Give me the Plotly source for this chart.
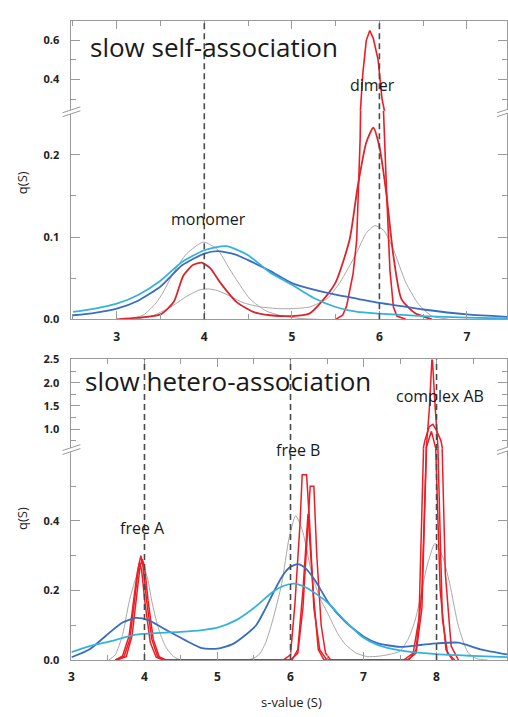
import plotly.graph_objects as go

# ---------------- data: slow self-association (top panel) ----------------
self_s_cyan = [2.5, 2.75, 3.0, 3.25, 3.5, 3.75, 4.0, 4.25, 4.5, 4.75, 5.0, 5.25, 5.5, 5.75, 6.0, 6.5, 7.0, 7.48]
self_q_cyan = [0.009, 0.013, 0.019, 0.030, 0.047, 0.070, 0.084, 0.089, 0.078, 0.057, 0.042, 0.026, 0.015, 0.009, 0.007, 0.004, 0.002, 0.001]

self_s_blue = [2.5, 2.75, 3.0, 3.25, 3.5, 3.75, 4.0, 4.15, 4.35, 4.5, 4.75, 5.0, 5.25, 5.5, 5.75, 6.0, 6.25, 6.5, 7.0, 7.48]
self_q_blue = [0.005, 0.008, 0.013, 0.023, 0.040, 0.066, 0.080, 0.083, 0.079, 0.072, 0.059, 0.044, 0.036, 0.030, 0.025, 0.020, 0.016, 0.012, 0.006, 0.003]

self_s_gray1 = [3.1, 3.3, 3.45, 3.53, 3.65, 3.8, 3.99, 4.15, 4.29, 4.52, 4.71, 4.9, 5.1, 5.3]
self_q_gray1 = [0.0, 0.005, 0.020, 0.033, 0.057, 0.080, 0.094, 0.085, 0.061, 0.025, 0.010, 0.004, 0.001, 0.0]

self_s_gray2 = [3.2, 3.4, 3.6, 3.8, 3.95, 4.05, 4.15, 4.3, 4.45, 4.65, 4.85, 5.0, 5.2, 5.4, 5.55, 5.74, 5.85, 5.95, 6.05, 6.16, 6.3, 6.45, 6.6, 6.8]
self_q_gray2 = [0.0, 0.004, 0.014, 0.028, 0.036, 0.037, 0.035, 0.028, 0.020, 0.015, 0.013, 0.013, 0.015, 0.025, 0.045, 0.081, 0.105, 0.114, 0.108, 0.085, 0.045, 0.018, 0.004, 0.0]

self_s_red1 = [3.0, 3.25, 3.5, 3.65, 3.76, 3.87, 3.97, 4.07, 4.18, 4.37, 4.56, 4.75, 5.0, 5.2, 5.36, 5.5, 5.66, 5.75, 5.85, 5.93, 6.0, 6.08, 6.16, 6.25, 6.4, 6.6]
self_q_red1 = [0.0, 0.002, 0.006, 0.021, 0.053, 0.066, 0.069, 0.062, 0.045, 0.021, 0.009, 0.005, 0.004, 0.007, 0.024, 0.045, 0.097, 0.160, 0.215, 0.233, 0.210, 0.152, 0.077, 0.025, 0.008, 0.0]

self_s_red2 = [5.5, 5.58, 5.625, 5.70, 5.74, 5.78, 5.81, 5.85, 5.89, 5.93, 5.985, 6.03, 6.08, 6.12, 6.16, 6.2, 6.3]
self_q_red2 = [0.0, 0.005, 0.016, 0.056, 0.096, 0.22, 0.43, 0.60, 0.65, 0.61, 0.50, 0.30, 0.16, 0.06, 0.015, 0.004, 0.0]

self_ref_s = [4, 6]

# ---------------- data: slow hetero-association (bottom panel) ----------------
het_s_cyan = [3.0, 3.25, 3.5, 3.88, 4.2, 4.5, 4.79, 5.0, 5.25, 5.53, 5.75, 5.9, 6.05, 6.2, 6.38, 6.52, 6.75, 6.98, 7.2, 7.5, 8.0, 8.5, 9.0]
het_q_cyan = [0.023, 0.040, 0.052, 0.073, 0.078, 0.081, 0.086, 0.093, 0.114, 0.155, 0.195, 0.213, 0.220, 0.210, 0.186, 0.163, 0.112, 0.067, 0.043, 0.028, 0.017, 0.012, 0.008]

het_s_blue = [3.0, 3.25, 3.5, 3.7, 3.88, 4.05, 4.33, 4.55, 4.79, 5.0, 5.2, 5.4, 5.53, 5.65, 5.78, 5.9, 6.0, 6.1, 6.2, 6.34, 6.52, 6.75, 7.0, 7.2, 7.5, 7.8, 8.0, 8.3, 8.6, 9.0]
het_q_blue = [0.008, 0.031, 0.075, 0.108, 0.121, 0.115, 0.083, 0.058, 0.034, 0.033, 0.045, 0.075, 0.100, 0.145, 0.200, 0.245, 0.268, 0.276, 0.265, 0.228, 0.165, 0.110, 0.068, 0.048, 0.038, 0.044, 0.048, 0.050, 0.031, 0.015]

het_s_gray = [3.51, 3.6, 3.7, 3.79, 3.88, 3.97, 4.03, 4.1, 4.16, 4.22, 4.3, 4.4, 4.5, 5.4, 5.5, 5.58, 5.66, 5.75, 5.88, 5.98, 6.07, 6.16, 6.29, 6.4, 6.52, 6.65, 6.75, 6.9, 7.05, 7.2, 7.35, 7.5, 7.61, 7.7, 7.77, 7.87, 7.98, 8.08, 8.18, 8.3, 8.43, 8.55, 8.7]
het_q_gray = [0.0, 0.015, 0.073, 0.167, 0.235, 0.27, 0.245, 0.17, 0.115, 0.073, 0.035, 0.010, 0.0, 0.0, 0.006, 0.018, 0.05, 0.11, 0.22, 0.35, 0.415, 0.375, 0.25, 0.18, 0.13, 0.075, 0.045, 0.02, 0.01, 0.011, 0.016, 0.026, 0.06, 0.11, 0.17, 0.27, 0.336, 0.30, 0.22, 0.097, 0.022, 0.004, 0.0]

het_s_red1 = [3.6, 3.72, 3.8, 3.87, 3.92, 3.95, 3.98, 4.03, 4.1, 4.18, 4.28,
              5.9, 6.0, 6.06, 6.13, 6.16, 6.22, 6.26, 6.32, 6.4, 6.5,
              7.6, 7.72, 7.8, 7.86, 7.9, 7.94, 7.98, 8.02, 8.08, 8.15, 8.25]
het_q_red1 = [0.0, 0.01, 0.06, 0.18, 0.27, 0.30, 0.27, 0.17, 0.06, 0.01, 0.0,
              0.0, 0.015, 0.16, 0.39, 0.533, 0.533, 0.40, 0.15, 0.03, 0.0,
              0.0, 0.02, 0.15, 0.60, 1.40, 2.60, 1.50, 0.60, 0.12, 0.02, 0.0]

het_s_red2 = [3.62, 3.75, 3.83, 3.9, 3.94, 3.97, 4.0, 4.05, 4.12, 4.2, 4.3,
              6.0, 6.1, 6.17, 6.23, 6.27, 6.32, 6.36, 6.42, 6.48, 6.55,
              7.55, 7.68, 7.76, 7.84, 7.9, 7.95, 7.99, 8.06, 8.12, 8.2, 8.3]
het_q_red2 = [0.0, 0.01, 0.07, 0.19, 0.27, 0.29, 0.27, 0.17, 0.06, 0.01, 0.0,
              0.0, 0.02, 0.15, 0.38, 0.50, 0.50, 0.30, 0.10, 0.02, 0.0,
              0.0, 0.02, 0.12, 0.75, 1.05, 1.10, 1.00, 0.75, 0.25, 0.04, 0.0]

het_s_red3 = [3.6, 3.7, 3.79, 3.86, 3.9, 3.93, 3.96, 4.01, 4.08, 4.16, 4.26,
              6.02, 6.1, 6.17, 6.24, 6.31, 6.38, 6.46,
              7.62, 7.72, 7.8, 7.86, 7.93, 7.99, 8.05, 8.13, 8.22]
het_q_red3 = [0.0, 0.012, 0.07, 0.18, 0.25, 0.28, 0.26, 0.16, 0.05, 0.008, 0.0,
              0.0, 0.03, 0.20, 0.42, 0.20, 0.03, 0.0,
              0.0, 0.03, 0.20, 0.60, 0.95, 0.60, 0.20, 0.03, 0.0]

het_ref_s = [4, 6, 8]

# ---------------- styling ----------------
W, H = 508, 717
RED = "#ee1c24"
RED_DARK = "#d9262c"
BLUE = "#3a6cc0"
CYAN = "#33b3dc"
GRAY = "#a8a8a8"
AXIS = "#9a9a9a"
TXT = "#1a1a1a"
FONT = "Open Sans"


def px(x):
    return x / W


def py(y):
    return 1 - y / H


fig = go.Figure()


def add_curve(s, q, color, width, panel, shape="linear"):
    pairs = [("x", "y"), ("x2", "y2")] if panel == "top" else [("x3", "y3"), ("x4", "y4")]
    for xa, ya in pairs:
        line = dict(color=color, width=width, shape=shape)
        if shape == "spline":
            line["smoothing"] = 0.6
        fig.add_trace(go.Scatter(
            x=s, y=q, mode="lines", line=line,
            xaxis=xa, yaxis=ya, showlegend=False, hoverinfo="skip"))


# top panel
add_curve(self_s_gray1, self_q_gray1, GRAY, 1.0, "top", "spline")
add_curve(self_s_gray2, self_q_gray2, GRAY, 1.0, "top", "spline")
add_curve(self_s_red1, self_q_red1, RED_DARK, 1.8, "top", "spline")
add_curve(self_s_red2, self_q_red2, RED, 1.6, "top")
add_curve(self_s_blue, self_q_blue, BLUE, 1.8, "top", "spline")
add_curve(self_s_cyan, self_q_cyan, CYAN, 1.8, "top", "spline")

# bottom panel
add_curve(het_s_gray, het_q_gray, GRAY, 1.0, "bottom", "spline")
add_curve(het_s_red3, het_q_red3, RED, 1.5, "bottom")
add_curve(het_s_red2, het_q_red2, RED, 1.5, "bottom")
add_curve(het_s_red1, het_q_red1, RED, 1.5, "bottom")
add_curve(het_s_blue, het_q_blue, BLUE, 1.8, "bottom", "spline")
add_curve(het_s_cyan, het_q_cyan, CYAN, 1.8, "bottom", "spline")

tickfont = dict(family=FONT, size=12, color="#222222", weight="bold")


def xaxis_cfg(rng, domain, anchor, top=False, match=None):
    cfg = dict(
        range=rng, domain=domain, anchor=anchor, showgrid=False, zeroline=False,
        showline=True, linecolor=AXIS, linewidth=1,
        ticks="inside", ticklen=8, tickcolor=AXIS, dtick=1, tick0=0,
        minor=dict(ticks="inside", ticklen=5, tickcolor=AXIS, dtick=0.5, tick0=0),
        tickfont=tickfont, ticklabelstandoff=6,
    )
    if top:
        cfg.update(side="top", showticklabels=False)
    if match:
        cfg["matches"] = match
    return cfg


def yaxis_cfg(rng, domain, anchor, vals, texts, minor_vals):
    return dict(
        range=rng, domain=domain, anchor=anchor, showgrid=False, zeroline=False,
        showline=True, linecolor=AXIS, linewidth=1, mirror="allticks",
        ticks="inside", ticklen=9, tickcolor=AXIS,
        tickvals=vals, ticktext=texts,
        minor=dict(ticks="inside", ticklen=5, tickcolor=AXIS, tickvals=minor_vals),
        tickfont=dict(tickfont, size=11), ticklabelstandoff=9,
    )


XD = [px(69), 1.0]
fig.update_layout(
    width=W, height=H, margin=dict(l=0, r=0, t=0, b=0),
    paper_bgcolor="white", plot_bgcolor="white",
    xaxis=xaxis_cfg([2.483, 7.457], XD, "y"),
    xaxis2=xaxis_cfg([2.483, 7.457], XD, "y2", top=True, match="x"),
    yaxis=yaxis_cfg([0, 0.2536], [py(318), py(105)], "x",
                    [0, 0.1, 0.2], ["0.0", "0.1", "0.2"], [0.05, 0.15]),
    yaxis2=yaxis_cfg([0.24, 0.70], [py(105), py(13)], "x2",
                     [0.4, 0.6], ["0.4", "0.6"], [0.3, 0.5]),
    xaxis3=xaxis_cfg([3, 8.965], XD, "y3"),
    xaxis4=xaxis_cfg([3, 8.965], XD, "y4", top=True, match="x3"),
    yaxis3=yaxis_cfg([0, 0.608], [py(666), py(450)], "x3",
                     [0, 0.2, 0.4], ["0.0", "0.2", "0.4"], [0.1, 0.3, 0.5]),
    yaxis4=yaxis_cfg([0.577, 2.502], [py(450), py(359)], "x4",
                     [1.0, 1.5, 2.0, 2.5], ["1.0", "1.5", "2.0", "2.5"], [0.75, 1.25, 1.75, 2.25]),
)

shapes = []
# dashed reference lines at the expected species s-values
for s in self_ref_s:
    shapes.append(dict(type="line", xref="x", yref="paper", x0=s, x1=s, y0=py(318), y1=py(13),
                       line=dict(color="#4a4a4a", width=1.6, dash="6px,4px")))
for s in het_ref_s:
    shapes.append(dict(type="line", xref="x3", yref="paper", x0=s, x1=s, y0=py(666), y1=py(359),
                       line=dict(color="#4a4a4a", width=1.6, dash="6px,4px")))


# axis-break marks on the left and right frame lines
def break_mark(xc, yc):
    pts = [(xc - 9, yc + 2), (xc + 9, yc - 4), (xc + 9, yc), (xc - 9, yc + 6)]
    path = "M {} {} L {} {} L {} {} L {} {} Z".format(
        *[v for p in pts for v in (px(p[0]), py(p[1]))])
    out = [dict(type="path", xref="paper", yref="paper", path=path,
                fillcolor="white", line=dict(width=0))]
    for (a, b) in [(pts[0], pts[1]), (pts[3], pts[2])]:
        out.append(dict(type="line", xref="paper", yref="paper",
                        x0=px(a[0]), y0=py(a[1]), x1=px(b[0]), y1=py(b[1]),
                        line=dict(color=AXIS, width=1)))
    return out


for (xc, yc) in [(69, 105), (507, 105), (69, 450), (507, 450)]:
    shapes += break_mark(xc, yc)

fig.update_layout(shapes=shapes)

ann = []


def label(text, x, y, size, **kw):
    ann.append(dict(text=text, x=px(x), y=py(y), xref="paper", yref="paper",
                    showarrow=False, font=dict(family=FONT, size=size, color=TXT), **kw))


label("slow self-association", 86, 40, 26, xanchor="left", yanchor="middle")
label("slow hetero-association", 81, 381, 26, xanchor="left", yanchor="middle")
label("dimer", 372, 79, 16, xanchor="center", yanchor="middle")
label("monomer", 207, 216, 16, xanchor="center", yanchor="middle")
label("free A", 141, 531, 16, xanchor="center", yanchor="middle")
label("free B", 297, 451, 16, xanchor="center", yanchor="middle")
label("complex AB", 440, 396, 16, xanchor="center", yanchor="middle")
label("q(S)", 19, 178, 13, xanchor="center", yanchor="middle", textangle=-90)
label("q(S)", 19, 521, 13, xanchor="center", yanchor="middle", textangle=-90)
label("s-value (S)", 291, 709, 13, xanchor="center", yanchor="middle")
fig.update_layout(annotations=ann)

fig.write_html("out.html")
